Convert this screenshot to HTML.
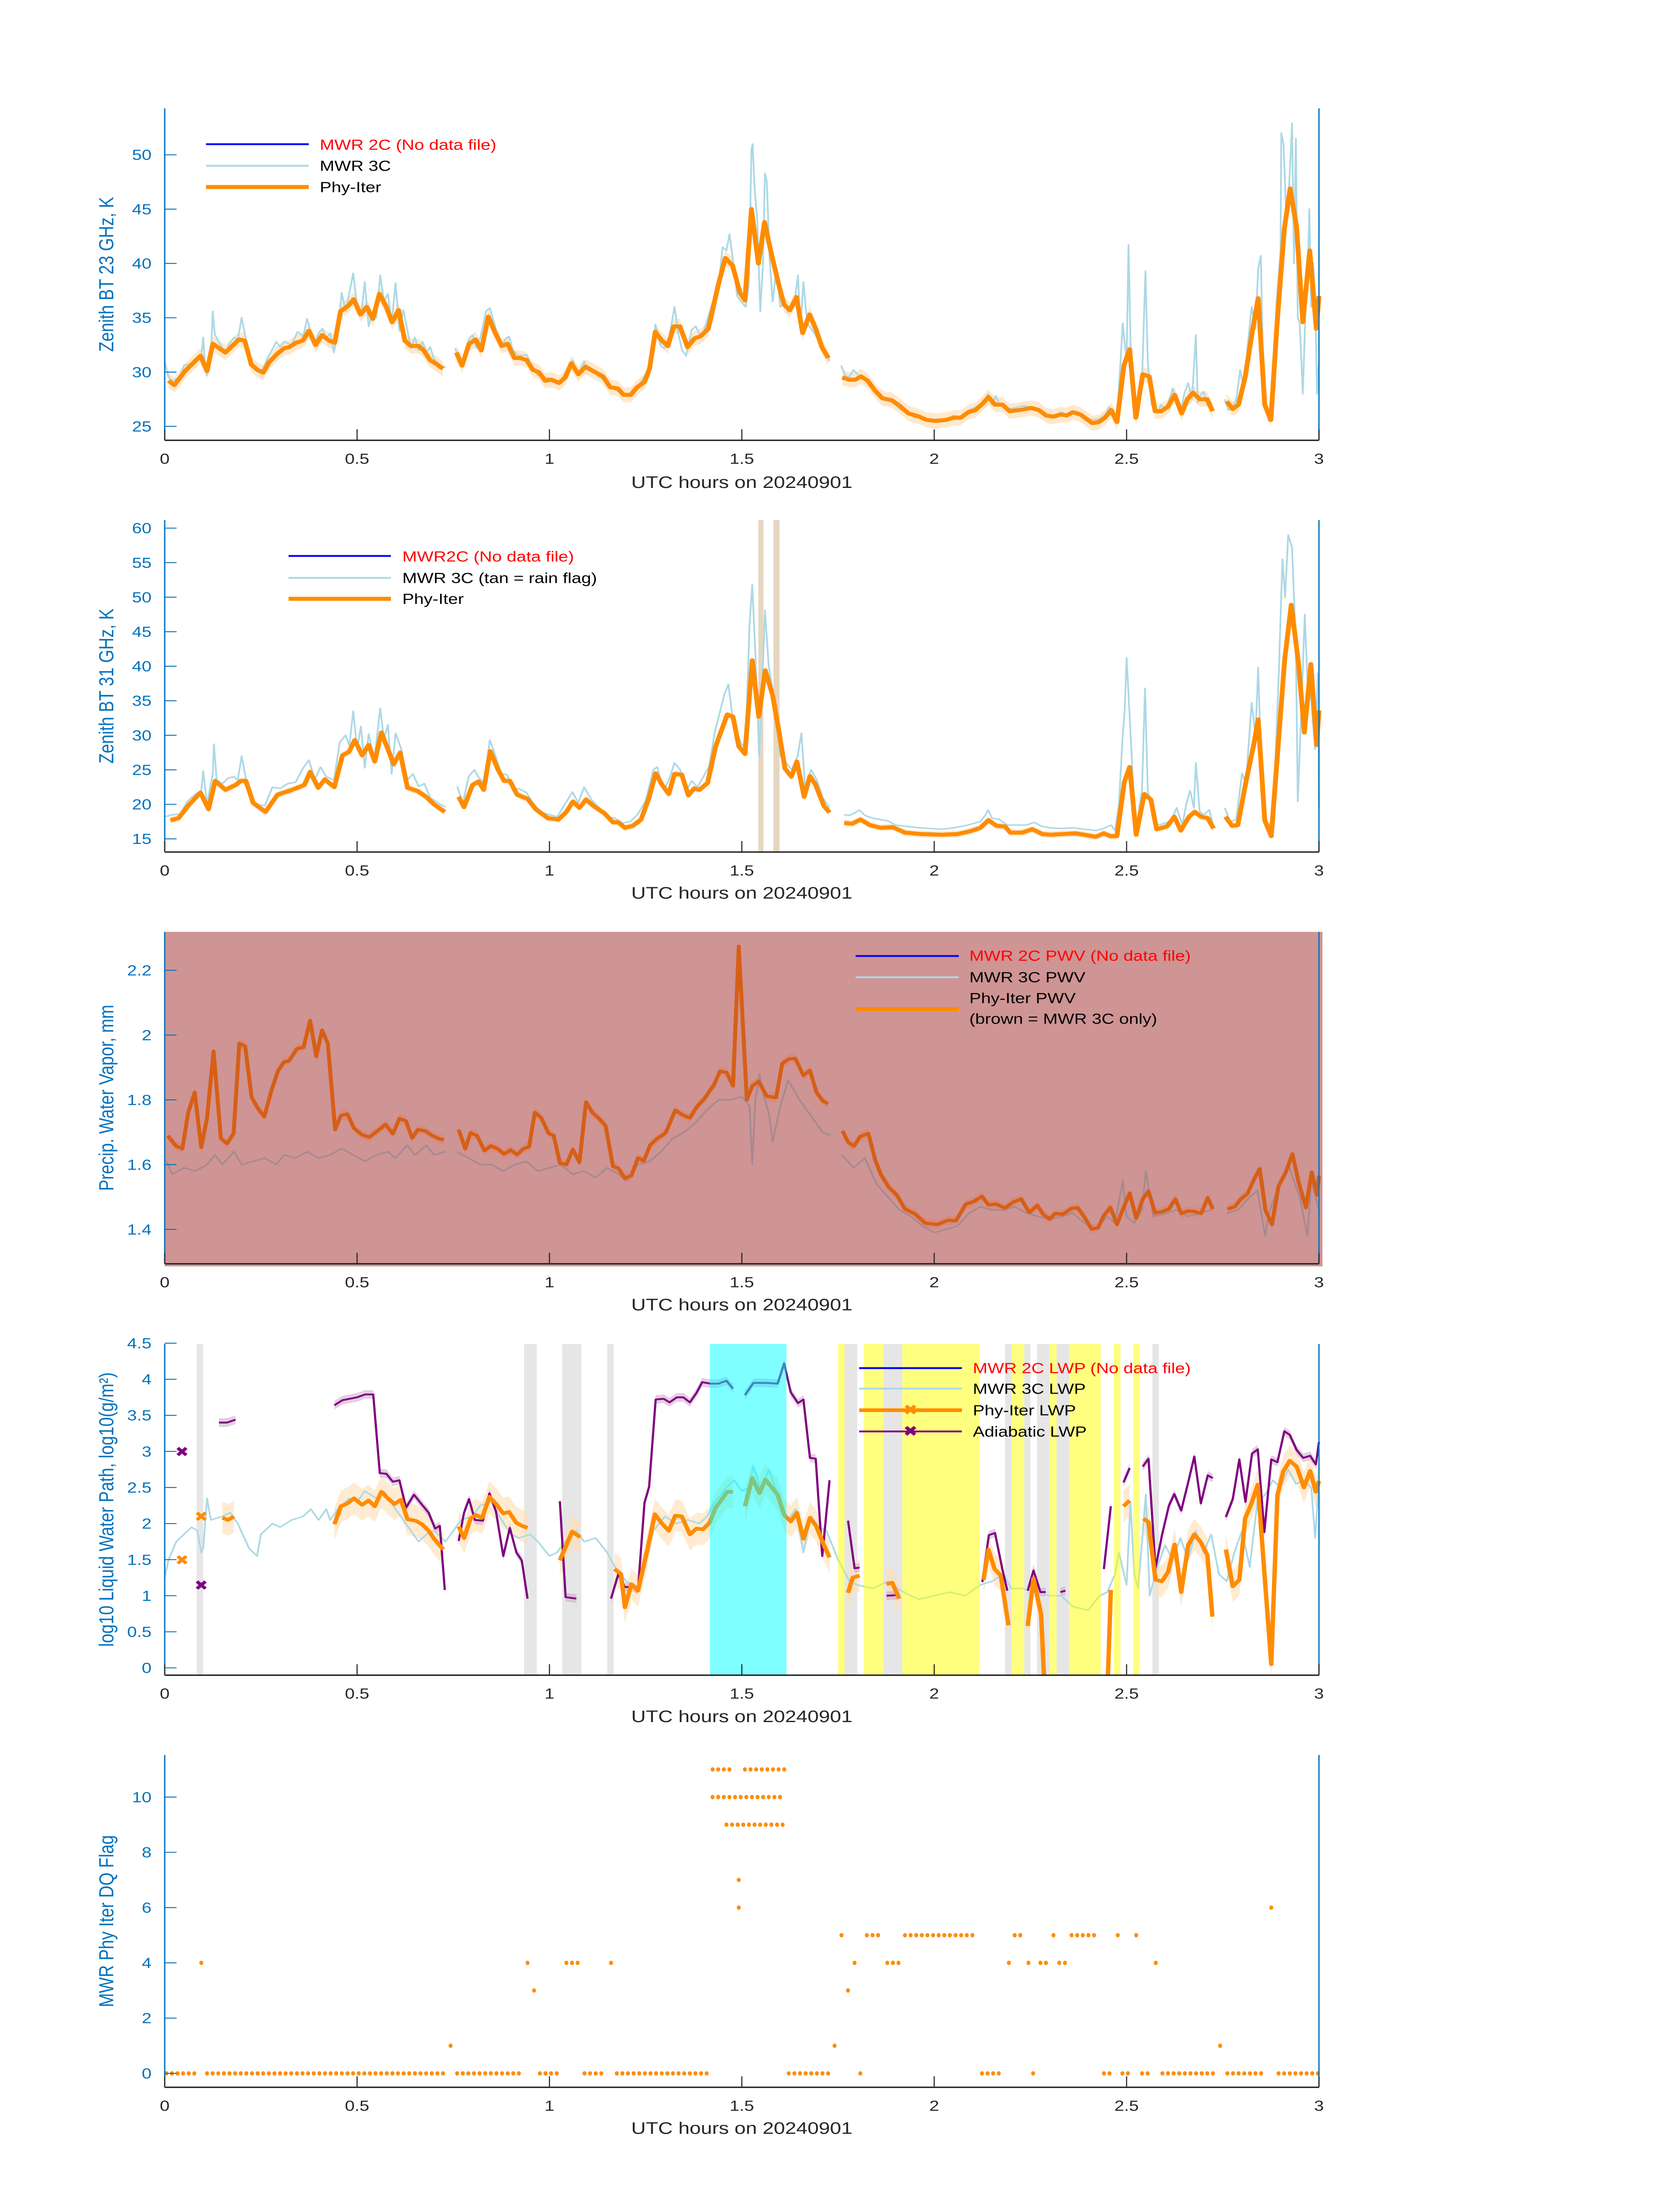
<!DOCTYPE html>
<html><head><meta charset="utf-8"><title>MWR timeseries 20240901</title>
<style>
html,body{margin:0;padding:0;background:#fff;width:100%;height:100%;overflow:hidden;}
svg{display:block;position:absolute;left:0;top:0;width:100vw;height:100vh;font-family:"Liberation Sans","DejaVu Sans",sans-serif;}
</style></head>
<body>
<svg id="fig" xmlns="http://www.w3.org/2000/svg" viewBox="0 0 3825 6000" preserveAspectRatio="none" overflow="hidden"></svg>
<script>
// ===================== DATA =====================
const p1OrangeT=[0.01,0.025,0.053,0.079,0.093,0.11,0.125,0.158,0.193,0.208,0.225,0.241,0.256,0.271,0.293,0.311,0.324,0.341,0.359,0.375,0.392,0.409,0.427,0.442,0.457,0.477,0.491,0.509,0.525,0.541,0.558,0.576,0.591,0.608,0.624,0.64,0.66,0.673,0.69,0.708,0.723,null,0.758,0.773,0.791,0.808,0.823,0.841,0.858,0.876,0.891,0.909,0.924,0.941,0.957,0.972,0.989,1.005,1.025,1.041,1.057,1.075,1.094,1.113,1.139,1.158,1.177,1.193,1.211,1.228,1.247,1.26,1.275,1.292,1.308,1.323,1.339,1.359,1.377,1.393,1.413,1.438,1.457,1.476,1.495,1.508,1.525,1.543,1.559,1.578,1.597,1.61,1.625,1.642,1.658,1.676,1.693,1.708,1.725,null,1.761,1.779,1.795,1.81,1.827,1.846,1.865,1.89,1.91,1.933,1.961,1.98,2.005,2.031,2.05,2.069,2.088,2.107,2.126,2.141,2.158,2.177,2.196,2.221,2.253,2.272,2.291,2.31,2.329,2.344,2.36,2.38,2.395,2.411,2.428,2.444,2.46,2.475,2.493,2.508,2.524,2.542,2.559,2.574,2.59,2.607,2.625,2.643,2.658,2.673,2.69,2.709,2.724,null,2.76,2.776,2.791,2.808,2.827,2.842,2.859,2.875,2.891,2.91,2.925,2.942,2.958,2.976,2.993,3.0];
const p1OrangeV=[29.2,28.8,30.1,31.0,31.5,30.1,32.6,31.8,33.0,32.9,30.7,30.2,29.95,30.9,31.7,32.2,32.3,32.7,32.9,33.8,32.5,33.4,32.9,32.7,35.6,36.1,36.7,35.3,36.0,34.9,37.2,36.0,34.6,35.7,32.9,32.4,32.4,32.0,31.1,30.7,30.3,null,31.8,30.6,32.6,33.0,32.0,35.1,33.7,32.4,32.6,31.3,31.3,31.1,30.2,30.0,29.2,29.3,29.0,29.5,30.8,29.8,30.5,30.1,29.6,28.6,28.5,27.9,27.9,28.6,29.1,30.3,33.7,32.9,32.4,34.2,34.2,32.3,33.1,33.3,34.0,37.9,40.5,39.8,37.3,36.6,45.0,40.0,43.8,40.7,37.9,36.2,35.7,36.9,33.6,35.3,33.9,32.3,31.3,null,29.5,29.3,29.3,29.6,29.2,28.3,27.6,27.4,26.9,26.2,25.9,25.6,25.5,25.6,25.8,25.8,26.3,26.5,27.1,27.7,27.0,27.0,26.4,26.5,26.7,26.5,26.0,25.9,26.1,26.0,26.3,26.1,25.7,25.3,25.4,25.8,26.5,25.4,30.6,32.1,25.8,29.8,29.6,26.4,26.4,26.8,27.9,26.2,27.5,28.1,27.5,27.5,26.4,null,27.3,26.6,27.0,29.5,33.8,36.8,27.0,25.6,34.4,43.2,46.9,43.3,34.6,41.2,34.0,37.0];
const p1BlueT=[0,0.01,0.02,0.04,0.05,0.07,0.085,0.095,0.1,0.105,0.11,0.12,0.125,0.13,0.14,0.15,0.16,0.17,0.18,0.19,0.2,0.21,0.22,0.235,0.25,0.27,0.28,0.29,0.3,0.31,0.33,0.345,0.36,0.37,0.38,0.39,0.4,0.41,0.42,0.43,0.44,0.45,0.46,0.47,0.48,0.49,0.5,0.51,0.52,0.53,0.54,0.55,0.56,0.57,0.58,0.59,0.6,0.61,0.62,0.63,0.64,0.65,0.66,0.67,0.68,0.69,0.7,0.71,0.72,0.73,null,0.755,0.77,0.78,0.79,0.8,0.81,0.82,0.835,0.845,0.855,0.865,0.875,0.885,0.895,0.905,0.92,0.94,0.955,0.97,0.99,1.005,1.02,1.035,1.05,1.06,1.075,1.09,1.1,1.115,1.13,1.15,1.165,1.18,1.2,1.215,1.235,1.25,1.265,1.275,1.29,1.3,1.31,1.318,1.325,1.335,1.345,1.355,1.37,1.38,1.39,1.4,1.41,1.425,1.44,1.45,1.46,1.468,1.478,1.488,1.498,1.51,1.518,1.525,1.528,1.533,1.54,1.548,1.555,1.56,1.565,1.572,1.58,1.59,1.6,1.61,1.62,1.635,1.646,1.652,1.66,1.67,1.68,1.69,1.7,1.71,1.72,1.728,null,1.758,1.77,1.78,1.79,1.8,1.81,1.83,1.85,1.87,1.89,1.91,1.93,1.95,1.97,1.99,2.01,2.03,2.05,2.07,2.09,2.11,2.13,2.14,2.15,2.16,2.17,2.19,2.21,2.23,2.25,2.27,2.29,2.31,2.33,2.35,2.37,2.39,2.41,2.43,2.445,2.455,2.465,2.475,2.485,2.49,2.5,2.505,2.51,2.52,2.53,2.54,2.549,2.555,2.565,2.58,2.59,2.6,2.61,2.62,2.63,2.64,2.65,2.66,2.67,2.68,2.685,2.69,2.7,2.71,2.72,null,2.755,2.765,2.775,2.785,2.795,2.805,2.815,2.825,2.835,2.842,2.849,2.855,2.862,2.87,2.878,2.89,2.9,2.902,2.908,2.915,2.92,2.925,2.93,2.935,2.94,2.945,2.95,2.958,2.965,2.97,2.975,2.98,2.985,2.99,2.995,3.0];
const p1BlueV=[31.0,29.5,29.2,29.5,30.6,30.8,31.2,31.3,33.2,30.5,29.7,31.5,35.6,33.5,32.8,32.2,32.0,32.7,33.2,33.0,35.0,33.2,31.0,30.5,29.9,31.5,32.1,32.8,32.3,32.8,32.5,33.7,33.3,34.9,33.6,32.6,33.6,34.0,33.1,33.6,31.8,33.8,37.3,35.6,37.3,39.1,36.0,35.2,38.3,34.2,35.5,35.0,38.9,36.5,37.2,34.5,38.2,33.8,35.7,34.0,32.2,33.2,32.0,32.8,31.8,32.3,31.2,30.8,30.6,30.4,null,32.2,30.5,31.2,33.0,33.4,32.2,33.1,35.6,35.9,34.7,33.4,32.3,33.0,33.3,32.0,31.5,31.6,30.4,29.7,29.5,29.4,28.9,29.5,30.5,31.1,29.7,31.0,30.2,30.0,29.5,29.1,28.5,28.2,27.8,28.2,28.9,29.8,30.5,34.4,32.4,32.2,33.0,34.6,36.0,33.5,32.0,31.5,33.9,34.2,33.5,33.6,34.8,36.5,38.2,41.5,41.2,42.7,40.0,37.0,36.5,36.0,38.0,50.5,51.0,47.0,44.0,35.6,40.0,48.3,47.5,40.5,36.5,39.5,36.0,36.4,35.5,36.0,38.9,34.0,38.3,34.5,34.0,33.5,32.8,32.0,31.8,31.0,null,30.6,29.6,29.6,30.2,29.8,29.5,29.0,28.1,27.4,27.3,26.6,26.2,25.8,25.8,25.5,25.7,25.5,26.0,25.9,26.5,26.8,27.3,28.0,27.0,27.8,27.0,26.6,26.7,26.9,26.8,26.4,26.1,26.0,26.3,26.0,26.4,25.9,25.6,25.7,26.1,26.8,26.0,25.8,31.4,34.5,31.0,41.7,33.0,26.2,26.0,29.0,39.3,31.0,27.0,26.2,27.0,26.5,27.3,28.5,27.0,26.3,28.0,29.0,27.5,33.4,27.2,27.8,28.2,27.0,26.5,null,27.5,26.5,26.8,27.4,30.2,28.5,32.5,36.0,34.0,39.5,40.7,30.0,26.5,25.5,26.8,36.5,41.0,52.0,51.0,44.0,45.5,49.0,52.9,40.0,51.5,35.0,34.5,28.0,35.5,38.0,45.0,36.0,40.0,37.0,28.0,31.0];

const p2OrangeT=[0.015,0.036,0.061,0.093,0.114,0.131,0.158,0.184,0.198,0.211,0.23,0.262,0.293,0.331,0.363,0.378,0.399,0.416,0.441,0.462,0.479,0.494,0.513,0.53,0.546,0.563,0.58,0.595,0.612,0.631,0.658,0.679,0.7,0.728,null,0.764,0.778,0.8,0.816,0.829,0.846,0.865,0.882,0.897,0.916,0.943,0.964,0.996,1.023,1.044,1.061,1.078,1.095,1.116,1.143,1.165,1.179,1.196,1.217,1.238,1.259,1.276,1.293,1.31,1.325,1.344,1.361,1.376,1.39,1.411,1.432,1.462,1.477,1.492,1.508,1.527,1.544,1.561,1.58,1.597,1.612,1.629,1.643,1.662,1.677,1.692,1.713,1.728,null,1.766,1.787,1.808,1.833,1.861,1.892,1.924,1.966,2.019,2.061,2.093,2.12,2.141,2.162,2.184,2.198,2.228,2.255,2.281,2.302,2.335,2.367,2.39,2.42,2.441,2.458,2.475,2.494,2.508,2.525,2.546,2.563,2.578,2.605,2.624,2.641,2.662,2.677,2.694,2.711,2.726,null,2.757,2.774,2.789,2.81,2.831,2.842,2.859,2.876,2.895,2.911,2.928,2.947,2.962,2.979,2.994,3.0];
const p2OrangeV=[17.7,18.0,19.8,21.7,19.3,23.4,22.1,22.8,23.4,23.4,20.2,18.9,21.4,22.1,22.8,24.7,22.4,23.6,22.5,27.1,27.6,29.3,27.1,28.6,26.2,30.4,28.0,25.8,27.5,22.4,21.9,21.1,20.0,18.9,null,21.1,19.6,22.8,23.3,22.1,27.7,25.2,23.4,23.4,21.4,20.8,19.3,18.0,17.8,18.9,20.4,19.5,20.7,19.7,18.7,17.4,17.4,16.6,16.9,17.8,21.0,24.5,22.8,21.5,24.4,24.3,21.3,22.3,22.1,23.1,28.4,33.0,32.7,28.4,27.3,40.85,32.7,39.4,35.8,30.4,25.2,24.0,26.2,21.1,24.1,22.8,19.8,18.8,null,17.3,17.2,17.8,17.0,16.6,16.7,15.9,15.7,15.6,15.7,16.1,16.6,17.7,16.9,16.8,15.9,15.9,16.4,15.7,15.6,15.7,15.8,15.6,15.3,15.8,15.4,15.4,23.2,25.4,15.6,21.5,20.7,16.4,16.8,18.2,16.2,18.2,18.9,18.2,18.0,16.5,null,18.2,16.9,17.0,23.2,28.8,32.3,17.7,15.4,29.3,41.0,48.9,40.3,30.4,40.3,28.6,33.6];
const p2BlueT=[0,0.02,0.04,0.06,0.08,0.095,0.1,0.11,0.125,0.128,0.135,0.15,0.165,0.18,0.19,0.2,0.21,0.225,0.24,0.26,0.28,0.3,0.32,0.34,0.36,0.375,0.39,0.405,0.42,0.44,0.455,0.47,0.48,0.49,0.5,0.51,0.52,0.53,0.545,0.56,0.57,0.58,0.59,0.6,0.615,0.63,0.645,0.66,0.675,0.69,0.71,0.73,null,0.76,0.775,0.79,0.805,0.815,0.83,0.845,0.86,0.875,0.89,0.905,0.92,0.94,0.96,0.98,1.0,1.02,1.04,1.06,1.075,1.09,1.11,1.13,1.15,1.17,1.19,1.21,1.23,1.25,1.27,1.28,1.29,1.3,1.31,1.325,1.34,1.355,1.37,1.385,1.4,1.415,1.43,1.445,1.455,1.465,1.475,1.49,1.5,1.51,1.52,1.527,1.535,1.545,1.552,1.56,1.57,1.58,1.59,1.6,1.615,1.63,1.645,1.655,1.665,1.68,1.695,1.71,1.728,null,1.765,1.78,1.795,1.805,1.82,1.84,1.86,1.88,1.9,1.93,1.96,1.99,2.02,2.05,2.08,2.1,2.12,2.135,2.14,2.15,2.17,2.19,2.21,2.24,2.26,2.28,2.3,2.33,2.36,2.39,2.42,2.44,2.46,2.47,2.48,2.49,2.495,2.5,2.505,2.515,2.525,2.54,2.548,2.555,2.57,2.585,2.6,2.615,2.63,2.645,2.655,2.665,2.675,2.68,2.69,2.7,2.715,2.725,null,2.755,2.77,2.785,2.8,2.81,2.825,2.835,2.842,2.85,2.86,2.875,2.885,2.895,2.905,2.912,2.92,2.93,2.94,2.945,2.955,2.963,2.97,2.98,2.99,2.997,3.0];
const p2BlueV=[18.2,18.5,18.6,20.5,21.5,22.0,24.8,20.0,24.5,28.7,23.5,23.0,23.8,24.0,23.5,27.0,24.0,20.8,20.0,19.8,22.5,22.3,23.0,23.2,25.3,26.4,23.6,25.4,24.0,23.5,29.0,30.0,28.5,33.5,28.0,31.3,25.3,30.2,26.5,33.9,29.5,31.5,24.4,30.3,28.0,23.5,24.4,22.6,23.0,21.0,20.2,19.6,null,22.6,20.2,24.0,25.0,24.0,23.0,29.3,27.0,24.4,24.3,22.0,22.3,21.7,20.0,18.8,18.5,18.2,20.0,21.8,20.2,22.5,20.6,19.5,18.2,18.0,17.3,17.5,18.6,20.5,25.0,25.4,23.4,22.4,23.5,26.0,25.0,22.0,23.4,22.5,24.0,25.5,30.5,33.8,36.0,37.4,33.0,30.0,28.5,29.0,46.0,51.8,42.0,27.0,36.0,48.1,40.0,36.5,32.0,27.0,26.0,25.0,27.0,30.3,22.0,25.0,23.5,21.0,19.5,null,18.5,18.4,18.8,19.2,18.4,18.0,17.8,17.6,17.0,16.8,16.6,16.5,16.4,16.6,16.9,17.2,17.5,18.6,19.2,18.0,17.8,17.0,17.0,17.0,17.4,16.8,16.6,16.5,16.6,16.4,16.2,16.5,17.0,16.2,20.0,30.0,33.5,41.2,36.0,25.0,16.5,22.0,36.8,22.0,17.5,17.0,17.3,17.5,19.5,17.0,20.0,22.0,19.5,26.0,19.0,18.5,19.2,17.0,null,19.5,17.5,17.8,24.5,23.0,34.7,30.0,39.8,25.0,17.5,17.0,24.0,38.0,55.5,50.0,59.0,57.2,43.0,20.4,35.0,47.5,38.0,35.0,28.0,39.0,19.6];
const rainStart=[1.543,1.582];
const rainEnd=[1.556,1.598];

const p3OrangeT=[0.008,0.03,0.046,0.061,0.078,0.095,0.11,0.127,0.146,0.162,0.179,0.194,0.209,0.226,0.243,0.259,0.278,0.295,0.31,0.323,0.344,0.361,0.378,0.394,0.409,0.424,0.443,0.458,0.475,0.492,0.513,0.532,0.553,0.574,0.593,0.61,0.627,0.643,0.658,0.677,0.696,0.715,0.726,null,0.764,0.781,0.795,0.812,0.831,0.848,0.865,0.882,0.899,0.916,0.932,0.947,0.962,0.979,0.998,1.011,1.027,1.044,1.061,1.078,1.095,1.112,1.129,1.146,1.165,1.179,1.196,1.213,1.23,1.245,1.262,1.281,1.302,1.327,1.348,1.365,1.382,1.403,1.428,1.443,1.46,1.477,1.492,1.513,1.527,1.544,1.565,1.589,1.605,1.622,1.639,1.66,1.677,1.694,1.711,1.724,null,1.762,1.776,1.791,1.808,1.829,1.846,1.861,1.882,1.903,1.924,1.951,1.977,2.008,2.036,2.057,2.082,2.103,2.124,2.141,2.162,2.184,2.205,2.226,2.247,2.268,2.283,2.3,2.314,2.335,2.357,2.373,2.39,2.409,2.426,2.441,2.458,2.475,2.492,2.508,2.525,2.542,2.557,2.574,2.593,2.61,2.627,2.642,2.66,2.677,2.694,2.711,2.724,null,2.762,2.781,2.797,2.814,2.831,2.846,2.861,2.878,2.895,2.914,2.931,2.947,2.966,2.981,2.995,3.0];
const p3OrangeV=[1.689,1.657,1.649,1.76,1.823,1.653,1.744,1.95,1.681,1.665,1.696,1.974,1.966,1.807,1.772,1.748,1.831,1.891,1.917,1.92,1.958,1.962,2.045,1.934,2.015,1.974,1.708,1.752,1.756,1.712,1.692,1.685,1.704,1.724,1.695,1.742,1.735,1.682,1.708,1.704,1.689,1.679,1.677,null,1.708,1.649,1.698,1.689,1.643,1.658,1.649,1.633,1.645,1.631,1.649,1.655,1.761,1.744,1.696,1.69,1.605,1.6,1.647,1.607,1.793,1.76,1.742,1.72,1.595,1.589,1.558,1.566,1.621,1.611,1.661,1.681,1.698,1.768,1.752,1.744,1.777,1.804,1.847,1.888,1.885,1.843,2.274,1.8,1.843,1.857,1.811,1.807,1.912,1.926,1.928,1.875,1.891,1.823,1.796,1.788,null,1.704,1.669,1.657,1.687,1.696,1.617,1.57,1.53,1.506,1.463,1.447,1.419,1.415,1.428,1.427,1.478,1.486,1.502,1.476,1.478,1.466,1.484,1.494,1.452,1.474,1.447,1.432,1.449,1.447,1.465,1.467,1.439,1.401,1.405,1.443,1.468,1.415,1.467,1.512,1.435,1.494,1.518,1.451,1.455,1.463,1.494,1.449,1.457,1.455,1.449,1.498,1.463,null,1.463,1.47,1.494,1.51,1.554,1.587,1.459,1.415,1.534,1.577,1.633,1.546,1.467,1.577,1.506,1.566];
const p3BlueT=[0,0.02,0.05,0.08,0.11,0.13,0.15,0.18,0.2,0.23,0.26,0.29,0.31,0.34,0.37,0.4,0.43,0.46,0.49,0.52,0.55,0.58,0.6,0.63,0.65,0.68,0.7,0.73,null,0.76,0.79,0.82,0.85,0.88,0.91,0.94,0.97,1.0,1.03,1.06,1.09,1.12,1.15,1.18,1.2,1.23,1.26,1.29,1.32,1.35,1.38,1.41,1.44,1.47,1.5,1.52,1.527,1.535,1.546,1.555,1.57,1.58,1.6,1.62,1.65,1.68,1.71,1.73,null,1.76,1.79,1.82,1.85,1.88,1.91,1.94,1.97,2.0,2.03,2.06,2.09,2.12,2.15,2.18,2.21,2.24,2.27,2.3,2.33,2.36,2.39,2.42,2.45,2.47,2.49,2.5,2.52,2.54,2.55,2.57,2.6,2.63,2.66,2.69,2.72,null,2.76,2.79,2.82,2.84,2.86,2.87,2.9,2.92,2.95,2.97,2.98,3.0];
const p3BlueV=[1.62,1.57,1.59,1.58,1.6,1.63,1.6,1.64,1.6,1.61,1.62,1.6,1.63,1.62,1.64,1.62,1.63,1.65,1.63,1.61,1.63,1.64,1.62,1.66,1.63,1.66,1.63,1.64,null,1.64,1.62,1.6,1.6,1.58,1.6,1.61,1.58,1.59,1.6,1.57,1.58,1.56,1.59,1.57,1.55,1.6,1.61,1.64,1.68,1.7,1.73,1.77,1.8,1.8,1.81,1.78,1.6,1.8,1.88,1.82,1.76,1.67,1.78,1.86,1.8,1.75,1.7,1.69,null,1.63,1.59,1.62,1.54,1.5,1.46,1.44,1.41,1.39,1.4,1.41,1.45,1.47,1.46,1.46,1.47,1.45,1.44,1.43,1.44,1.45,1.42,1.4,1.44,1.42,1.55,1.44,1.42,1.46,1.58,1.44,1.45,1.46,1.44,1.45,1.46,null,1.45,1.46,1.5,1.52,1.38,1.45,1.55,1.6,1.5,1.38,1.55,1.46];

const p4BlueT=[0,0.01,0.03,0.05,0.07,0.085,0.095,0.1,0.11,0.12,0.15,0.17,0.19,0.22,0.24,0.25,0.28,0.3,0.33,0.36,0.38,0.4,0.42,0.43,0.45,0.48,0.5,0.52,0.55,0.57,0.6,0.62,0.64,0.66,0.68,0.7,0.73,0.75,0.77,0.8,0.82,0.85,0.87,0.9,0.92,0.95,0.97,1.0,1.02,1.04,1.07,1.09,1.12,1.15,1.17,1.2,1.23,1.25,1.27,1.3,1.33,1.36,1.39,1.41,1.43,1.46,1.48,1.5,1.52,1.53,1.55,1.57,1.6,1.62,1.64,1.66,1.68,1.7,1.72,1.75,1.78,1.8,1.84,1.88,1.92,1.96,2.0,2.04,2.08,2.12,2.15,2.18,2.2,2.23,2.26,2.3,2.33,2.36,2.4,2.43,2.45,2.47,2.48,2.5,2.51,2.52,2.53,2.55,2.56,2.58,2.6,2.62,2.64,2.66,2.68,2.7,2.72,2.74,2.76,2.78,2.8,2.82,2.84,2.86,2.88,2.9,2.92,2.94,2.96,2.98,2.99,3.0];
const p4BlueV=[1.25,1.5,1.75,1.85,1.95,1.9,1.6,1.65,2.35,2.05,2.1,2.15,2.0,1.65,1.55,1.85,2.0,1.95,2.05,2.1,2.2,2.05,2.2,2.05,2.2,2.35,2.3,2.45,2.35,2.45,2.2,2.05,1.9,1.75,1.85,1.9,1.75,1.9,2.05,2.1,2.25,2.3,2.1,1.85,1.8,1.85,1.75,1.55,1.6,1.75,1.9,1.75,1.8,1.6,1.4,1.2,1.1,1.5,1.9,2.1,2.0,2.05,2.0,2.1,2.3,2.5,2.6,2.45,2.5,2.8,2.45,2.75,2.3,2.05,2.2,1.6,2.1,1.95,1.9,1.5,1.2,1.15,1.1,1.2,1.05,0.95,1.0,1.05,1.0,1.15,1.2,1.3,1.1,1.1,1.05,1.0,1.0,0.85,0.8,1.0,1.05,1.3,1.6,1.15,2.3,1.3,1.1,2.4,1.0,1.4,1.7,1.5,1.8,1.5,1.9,1.6,1.85,1.3,1.2,1.6,1.9,1.4,2.3,2.4,2.6,2.5,2.75,2.55,2.6,2.5,1.8,2.6];
const p4OrangeT=[0.15,0.165,0.18,null,0.441,0.458,0.475,0.492,0.513,0.53,0.546,0.563,0.58,0.597,0.614,0.631,0.652,0.669,0.686,0.7,0.724,null,0.764,0.778,0.795,0.808,0.825,0.844,0.863,0.88,0.895,0.914,0.928,0.943,null,1.027,1.059,1.08,null,1.169,1.186,1.196,1.213,1.23,1.255,1.274,1.291,1.31,1.327,1.344,1.365,1.382,1.399,1.416,1.432,1.462,1.477,null,1.508,1.527,1.546,1.561,1.593,1.61,1.627,1.643,1.66,1.677,1.694,1.711,1.728,null,1.776,1.788,1.806,null,1.876,1.891,1.909,null,2.128,2.141,2.157,2.173,2.193,null,2.243,2.258,2.278,2.286,null,2.451,2.459,null,2.492,2.508,null,2.544,2.557,2.575,2.592,2.608,2.625,2.642,2.66,2.676,2.693,2.71,2.723,null,2.758,2.776,2.793,2.808,2.824,2.841,2.876,2.892,2.907,2.924,2.942,2.961,2.977,2.992,3.0];
const p4OrangeV=[2.08,2.05,2.1,null,1.99,2.24,2.28,2.35,2.26,2.32,2.24,2.44,2.35,2.27,2.33,2.06,2.04,1.99,1.9,1.79,1.64,null,1.96,1.8,2.07,2.12,2.08,2.37,2.26,2.14,2.16,2.01,1.97,1.94,null,1.49,1.89,1.81,null,1.37,1.3,0.84,1.16,1.07,1.65,2.13,2.01,1.9,2.11,2.1,1.85,1.93,1.92,2.01,2.22,2.44,2.44,null,2.24,2.63,2.42,2.61,2.4,2.12,2.03,2.15,1.79,2.08,1.96,1.73,1.53,null,1.04,1.25,1.28,null,1.16,1.18,0.96,null,1.22,1.64,1.37,1.28,0.59,null,0.58,1.24,0.74,-0.2,null,-0.2,1.08,null,2.24,2.32,null,2.07,2.02,1.22,1.2,1.33,1.71,1.05,1.7,1.85,1.74,1.56,0.71,null,1.64,1.13,1.22,2.07,2.27,2.54,0.05,2.39,2.72,2.87,2.79,2.5,2.73,2.44,2.59];
const p4PurpleT=[0.141,0.162,0.184,null,0.441,0.462,0.5,0.521,0.542,0.559,0.576,0.593,0.61,0.627,0.648,0.669,0.686,0.703,0.715,0.728,null,0.764,0.778,0.791,0.806,0.827,0.844,0.861,0.88,0.897,0.914,0.928,0.943,null,1.027,1.042,1.07,null,1.16,1.179,1.196,1.217,1.23,1.247,1.259,1.276,1.297,1.312,1.331,1.348,1.365,1.382,1.397,1.418,1.439,1.46,1.477,null,1.508,1.53,1.565,1.593,1.61,1.627,1.646,1.66,1.677,1.692,1.709,1.728,null,1.776,1.793,1.806,null,1.876,1.909,null,2.125,2.142,2.158,2.177,2.19,null,2.243,2.258,2.276,2.29,null,2.328,2.341,null,2.441,2.459,null,2.492,2.508,null,2.542,2.557,2.575,2.592,2.61,2.624,2.642,2.66,2.676,2.693,2.711,2.724,null,2.758,2.776,2.793,2.809,2.826,2.841,2.858,2.876,2.892,2.91,2.924,2.942,2.959,2.977,2.992,3.0];
const p4PurpleV=[3.4,3.4,3.44,null,3.64,3.71,3.75,3.79,3.79,2.7,2.69,2.58,2.6,2.22,2.4,2.26,2.15,1.93,1.97,1.08,null,1.76,2.15,2.34,2.05,2.04,2.42,2.17,1.55,1.94,1.6,1.49,0.96,null,2.31,0.98,0.96,null,0.96,1.3,1.12,1.12,1.08,2.29,2.51,3.72,3.73,3.68,3.75,3.75,3.68,3.81,3.96,3.94,3.94,3.98,3.87,null,3.78,3.95,3.95,3.94,4.22,3.82,3.67,3.72,2.91,2.9,1.55,2.6,null,2.04,1.38,1.39,null,1.0,1.01,null,1.19,1.84,1.87,1.37,1.07,null,1.07,1.35,1.05,1.05,null,1.05,1.07,null,1.37,2.24,null,2.57,2.77,null,2.79,2.9,1.38,1.84,2.25,2.41,2.18,2.57,2.93,2.28,2.67,2.63,null,2.09,2.34,2.89,2.3,2.97,3.03,1.88,2.89,2.85,3.28,3.23,3.02,2.91,2.94,2.82,3.13];
const p4OrangeMarkT=[0.045,0.095];
const p4OrangeMarkV=[1.5,2.1];
const p4PurpleMarkT=[0.045,0.095];
const p4PurpleMarkV=[3.0,1.15];
const grayStart=[0.083,0.934,1.033,1.15,1.767,1.868,2.184,2.234,2.267,2.318,2.567];
const grayEnd=[0.1,0.967,1.083,1.167,1.8,1.917,2.201,2.25,2.3,2.351,2.584];
const yellowStart=[1.75,1.817,1.917,2.201,2.3,2.351,2.467,2.517];
const yellowEnd=[1.767,1.868,2.118,2.234,2.318,2.433,2.484,2.534];
const cyanStart=[1.417];
const cyanEnd=[1.616];

const dqRunStart=[0.004,0.110,0.760,0.975,1.091,1.175,1.622,1.808,2.124,2.257,2.441,2.489,2.540,2.593,2.762,2.895, 0.095,0.943,1.044,1.160,1.793,1.878,2.194,2.245,2.276,2.325,2.576, 0.743,1.741,2.743, 0.960,1.776, 1.759,1.825,1.924,2.209,2.310,2.357,2.477,2.525, 1.492,2.876, 1.492, 1.460, 1.424, 1.424,1.508];
const dqRunEnd=  [0.078,0.726,0.928,1.027,1.143,1.414,1.728,1.808,2.177,2.257,2.458,2.508,2.557,2.726,2.859,3.000, 0.095,0.943,1.076,1.160,1.793,1.909,2.194,2.245,2.293,2.342,2.576, 0.743,1.741,2.743, 0.960,1.776, 1.759,1.861,2.110,2.226,2.310,2.426,2.477,2.525, 1.492,2.876, 1.492, 1.612, 1.612, 1.481,1.612];
const dqRunVal=  [0,0,0,0,0,0,0,0,0,0,0,0,0,0,0,0, 4,4,4,4,4,4,4,4,4,4,4, 1,1,1, 3,3, 5,5,5,5,5,5,5,5, 6,6, 7, 9, 10, 11,11];
const dqStep=0.0146;

const xTicks=[0,0.5,1,1.5,2,2.5,3];
const xTickLabels=["0","0.5","1","1.5","2","2.5","3"];
const p1Ticks=[25,30,35,40,45,50];
const p2Ticks=[15,20,25,30,35,40,45,50,55,60];
const p3Ticks=[1.4,1.6,1.8,2,2.2];
const p4Ticks=[0,0.5,1,1.5,2,2.5,3,3.5,4,4.5];
const p5Ticks=[0,2,4,6,8,10];

// ===================== DRAWING =====================
const NS="http://www.w3.org/2000/svg";
const svg=document.getElementById('fig');
function mk(tag,attrs,parent){const e=document.createElementNS(NS,tag);for(const k in attrs)e.setAttribute(k,attrs[k]);(parent||svg).appendChild(e);return e;}
const X0=375,X1=3003;
const sx=t=>X0+t*(X1-X0)/3;
function lin(v1,p1,v2,p2){return v=>p1+(v-v1)*(p2-p1)/(v2-v1);}
const panels=[
 {top:296,bot:1203,sy:lin(25,1165,50,423),ylab:"Zenith BT 23 GHz, K",xlabY:1333},
 {top:1421,bot:2328,sy:lin(15,2292,60,1443),ylab:"Zenith BT 31 GHz, K",xlabY:2455},
 {top:2546,bot:3453,sy:lin(1.4,3359,2.2,2651),ylab:"Precip. Water Vapor, mm",xlabY:3580},
 {top:3672,bot:4577,sy:lin(0,4557,4.5,3670),ylab:"log10 Liquid Water Path, log10(g/m\u00B2)",xlabY:4705},
 {top:4795,bot:5703,sy:lin(0,5665,10,4910),ylab:"MWR Phy Iter DQ Flag",xlabY:5830}
];
function clipFor(i){
 const p=panels[i];
 const cp=mk('clipPath',{id:'clip'+i});
 mk('rect',{x:X0,y:p.top,width:X1-X0+8,height:p.bot-p.top},cp);
 return mk('g',{'clip-path':'url(#clip'+i+')'});
}
function pathFrom(T,V,sy){
 let d='',pen=false;
 for(let k=0;k<T.length;k++){
  if(T[k]===null||V[k]===null){pen=false;continue;}
  d+=(pen?'L':'M')+sx(T[k]).toFixed(1)+' '+sy(V[k]).toFixed(1);pen=true;
 }
 return d;
}
function bandFrom(T,V,sy,w){
 let segs=[],cur=[];
 for(let k=0;k<T.length;k++){
  if(T[k]===null||V[k]===null){if(cur.length)segs.push(cur);cur=[];continue;}
  cur.push([T[k],V[k]]);
 }
 if(cur.length)segs.push(cur);
 let d='';
 segs.forEach(s=>{
  if(s.length<2)return;
  let up=s.map(p=>sx(p[0]).toFixed(1)+' '+sy(p[1]+w).toFixed(1));
  let dn=s.slice().reverse().map(p=>sx(p[0]).toFixed(1)+' '+sy(p[1]-w).toFixed(1));
  d+='M'+up.join('L')+'L'+dn.join('L')+'Z';
 });
 return d;
}
function axes(i,ticks){
 const p=panels[i];
 const ax=mk('g',{});
 
 
 const ya=mk('line',{x1:X0,y1:p.top,x2:X0,y2:p.bot,stroke:'#0072BD','stroke-width':3},ax);
 
 
 const ra=mk('line',{x1:X1,y1:p.top,x2:X1,y2:p.bot,stroke:'#0072BD','stroke-width':3},ax);
 
 
 const xa=mk('line',{x1:X0,y1:p.bot,x2:X1,y2:p.bot,stroke:'#262626','stroke-width':4},ax);
 
 
 xTicks.forEach((t,k)=>{
  const tk=mk('line',{x1:sx(t),y1:p.bot,x2:sx(t),y2:p.bot-30,stroke:'#262626','stroke-width':2.5},ax);
  
  
  const tl=mk('text',{x:sx(t),y:p.bot+64,'text-anchor':'middle','font-size':40,fill:'#262626'},ax);
  tl.textContent=xTickLabels[k];
  
  
 });
 ticks.forEach(v=>{
  const y=p.sy(v);
  const tk=mk('line',{x1:X0,y1:y,x2:X0+27,y2:y,stroke:'#0072BD','stroke-width':2.5},ax);
  
  
  const tl=mk('text',{x:X0-30,y:y+14,'text-anchor':'end','font-size':40,fill:'#0072BD'},ax);
  tl.textContent=String(v);
  
  
 });
 const xl=mk('text',{x:1689,y:p.xlabY,'text-anchor':'middle','font-size':46,fill:'#262626'},ax);
 xl.textContent='UTC hours on 20240901';
 
 
 const cy=(p.top+p.bot)/2;
 const yl=mk('text',{x:0,y:0,'text-anchor':'middle','font-size':46,fill:'#0072BD',transform:'translate(258,'+cy+') rotate(-90)'},ax);
 yl.textContent=p.ylab;
 
 
}
function legend(x0,x1,tx,rows,name){
 const g=mk('g',{});
 
 
 rows.forEach(r=>{
  if(r.color){
   const l=mk('line',{x1:x0,y1:r.ly,x2:x1,y2:r.ly,stroke:r.color,'stroke-width':r.w},g);
   
   
   if(r.mark){
    const m=mk('text',{x:(x0+x1)/2,y:r.ly+13,'text-anchor':'middle','font-size':40,'font-weight':'bold',fill:r.color},g);
    m.textContent='\u2716';
    
    
   }
  }
  const t=mk('text',{x:tx,y:r.ty,'font-size':40,fill:r.tc||'#000'},g);
  t.textContent=r.text;
  
  
 });
}

// ---------- Panel 1 ----------
(function(){
 const p=panels[0],g=clipFor(0);
 const b=mk('path',{d:bandFrom(p1OrangeT,p1OrangeV,p.sy,0.7),fill:'#FFE4C4',opacity:0.85},g);
 
 
 const bl=mk('path',{d:pathFrom(p1BlueT,p1BlueV,p.sy),fill:'none',stroke:'#ADD8E6','stroke-width':4,'stroke-linejoin':'round'},g);
 
 
 const o=mk('path',{d:pathFrom(p1OrangeT,p1OrangeV,p.sy),fill:'none',stroke:'#FF8C00','stroke-width':11,'stroke-linejoin':'round'},g);
 
 
 axes(0,p1Ticks);
 legend(469,703,728,[
  {ly:394,ty:409,color:'#0000FF',w:5,text:'MWR 2C (No data file)',tc:'#FF0000'},
  {ly:453,ty:467,color:'#ADD8E6',w:5,text:'MWR 3C'},
  {ly:511,ty:525,color:'#FF8C00',w:11,text:'Phy-Iter'}],'legend-panel-1');
})();

// ---------- Panel 2 ----------
(function(){
 const p=panels[1],g=clipFor(1);
 rainStart.forEach((s,k)=>{
  const r=mk('rect',{x:sx(s),y:p.top,width:sx(rainEnd[k])-sx(s),height:p.bot-p.top,fill:'#D2B48C',opacity:0.55},g);
  
  
 });
 const b=mk('path',{d:bandFrom(p2OrangeT,p2OrangeV,p.sy,0.5),fill:'#FFE4C4',opacity:0.85},g);
 
 
 const bl=mk('path',{d:pathFrom(p2BlueT,p2BlueV,p.sy),fill:'none',stroke:'#ADD8E6','stroke-width':4,'stroke-linejoin':'round'},g);
 
 
 const o=mk('path',{d:pathFrom(p2OrangeT,p2OrangeV,p.sy),fill:'none',stroke:'#FF8C00','stroke-width':11,'stroke-linejoin':'round'},g);
 
 
 axes(1,p2Ticks);
 legend(657,890,916,[
  {ly:1519,ty:1534,color:'#0000FF',w:5,text:'MWR2C (No data file)',tc:'#FF0000'},
  {ly:1579,ty:1593,color:'#ADD8E6',w:5,text:'MWR 3C (tan = rain flag)'},
  {ly:1636,ty:1650,color:'#FF8C00',w:11,text:'Phy-Iter'}],'legend-panel-2');
})();

// ---------- Panel 3 ----------
(function(){
 const p=panels[2];
 const bg=mk('rect',{x:X0,y:p.top,width:3011-X0,height:3460-p.top,fill:'#CF9494'});
 
 
 const g=clipFor(2);
 const b=mk('path',{d:bandFrom(p3OrangeT,p3OrangeV,p.sy,0.014),fill:'#E0805A',opacity:0.45},g);
 
 
 const bl=mk('path',{d:pathFrom(p3BlueT,p3BlueV,p.sy),fill:'none',stroke:'#A48A90','stroke-width':4,'stroke-linejoin':'round'},g);
 
 
 const o=mk('path',{d:pathFrom(p3OrangeT,p3OrangeV,p.sy),fill:'none',stroke:'#D65F17','stroke-width':9,'stroke-linejoin':'round'},g);
 
 
 axes(2,p3Ticks);
 legend(1948,2183,2207,[
  {ly:2612,ty:2625,color:'#0000FF',w:5,text:'MWR 2C PWV (No data file)',tc:'#FF0000'},
  {ly:2670,ty:2684,color:'#ADD8E6',w:5,text:'MWR 3C PWV'},
  {ly:2757,ty:2741,color:'#FF8C00',w:11,text:'Phy-Iter PWV'},
  {ty:2797,text:'(brown = MWR 3C only)'}],'legend-panel-3');
})();

// ---------- Panel 4 ----------
(function(){
 const p=panels[3],g=clipFor(3);
 grayStart.forEach((s,k)=>{
  const r=mk('rect',{x:sx(s),y:p.top,width:sx(grayEnd[k])-sx(s),height:p.bot-p.top,fill:'#E6E6E6'},g);
  
  
 });
 const ob=mk('path',{d:bandFrom(p4OrangeT,p4OrangeV,p.sy,0.22),fill:'#FFDDB3',opacity:0.6},g);
 
 
 const pb=mk('path',{d:bandFrom(p4PurpleT,p4PurpleV,p.sy,0.06),fill:'#C8A0C8',opacity:0.5},g);
 
 
 const bl=mk('path',{d:pathFrom(p4BlueT,p4BlueV,p.sy),fill:'none',stroke:'#ADD8E6','stroke-width':4,'stroke-linejoin':'round'},g);
 
 
 const pu=mk('path',{d:pathFrom(p4PurpleT,p4PurpleV,p.sy),fill:'none',stroke:'#800080','stroke-width':5,'stroke-linejoin':'round'},g);
 
 
 const o=mk('path',{d:pathFrom(p4OrangeT,p4OrangeV,p.sy),fill:'none',stroke:'#FF8C00','stroke-width':10,'stroke-linejoin':'round'},g);
 
 
 p4OrangeMarkT.forEach((t,k)=>{
  const m=mk('text',{x:sx(t),y:p.sy(p4OrangeMarkV[k])+14,'text-anchor':'middle','font-size':38,'font-weight':'bold',fill:'#FF8C00'},g);
  m.textContent='\u2716';
  
  
 });
 p4PurpleMarkT.forEach((t,k)=>{
  const m=mk('text',{x:sx(t),y:p.sy(p4PurpleMarkV[k])+14,'text-anchor':'middle','font-size':38,'font-weight':'bold',fill:'#800080'},g);
  m.textContent='\u2716';
  
  
 });
 yellowStart.forEach((s,k)=>{
  const r=mk('rect',{x:sx(s),y:p.top,width:sx(yellowEnd[k])-sx(s),height:p.bot-p.top,fill:'#FFFF00',opacity:0.5},g);
  
  
 });
 cyanStart.forEach((s,k)=>{
  const r=mk('rect',{x:sx(s),y:p.top,width:sx(cyanEnd[k])-sx(s),height:p.bot-p.top,fill:'#00FFFF',opacity:0.5},g);
  
  
 });
 axes(3,p4Ticks);
 legend(1956,2190,2215,[
  {ly:3738,ty:3752,color:'#0000FF',w:5,text:'MWR 2C LWP (No data file)',tc:'#FF0000'},
  {ly:3794,ty:3808,color:'#ADD8E6',w:5,text:'MWR 3C LWP'},
  {ly:3853,ty:3867,color:'#FF8C00',w:10,mark:true,text:'Phy-Iter LWP'},
  {ly:3911,ty:3925,color:'#800080',w:5,mark:true,text:'Adiabatic LWP'}],'legend-panel-4');
})();

// ---------- Panel 5 ----------
(function(){
 const p=panels[4],g=clipFor(4);
 dqRunStart.forEach((s,k)=>{
  const e=dqRunEnd[k];
  for(let t=s;t<=e+1e-6;t+=dqStep){
   const c=mk('ellipse',{cx:sx(t),cy:p.sy(dqRunVal[k]),rx:4.5,ry:6,fill:'#FF8C00'},g);
   
   
  }
 });
 axes(4,p5Ticks);
})();
</script>
</body></html>
